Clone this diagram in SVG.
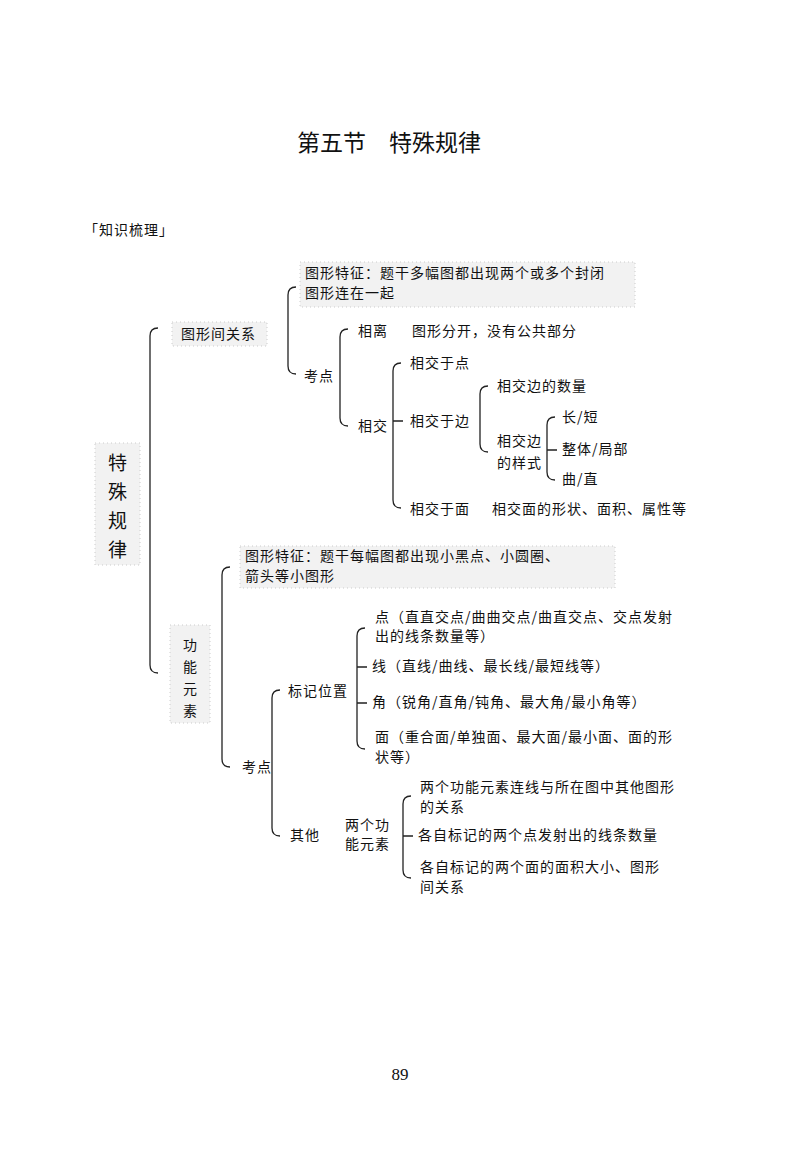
<svg xmlns="http://www.w3.org/2000/svg" width="800" height="1156" viewBox="0 0 800 1156">
<style>
text{font-family:"Noto Sans CJK SC","Noto Sans CJK JP",sans-serif;fill:#111;font-size:14px;letter-spacing:1px}
.t{font-size:23px;letter-spacing:0}
.big{font-size:19px}
.br{fill:none;stroke:#222;stroke-width:1.3}
.dot{fill:#f2f2f2;stroke:#ccc;stroke-width:1;stroke-dasharray:1 3}
.pn{font-family:"Liberation Serif",serif;font-size:17px;letter-spacing:0}
</style>
<rect width="800" height="1156" fill="#fff"/>
<text class="t" x="389" y="151" text-anchor="middle">第五节　特殊规律</text>
<text x="84" y="235" font-size="16">「知识梳理」</text>
<g id="connectors">
<path class="br" d="M158,328 Q150,328 150,336 V665 Q150,673 158,673"/>
<path class="br" d="M296,287 Q288,287 288,295 V366 Q288,374 296,374"/>
<path class="br" d="M348,329 Q340,329 340,337 V418 Q340,426 348,426"/>
<path class="br" d="M401,363 Q393,363 393,371 V500 Q393,508 401,508 M393,421 H403"/>
<path class="br" d="M488,386 Q480,386 480,394 V444 Q480,452 488,452"/>
<path class="br" d="M555,417 Q547,417 547,425 V472 Q547,480 555,480 M547,450 H557"/>
<path class="br" d="M230,567 Q222,567 222,575 V759 Q222,767 230,767"/>
<path class="br" d="M280,690 Q272,690 272,698 V828 Q272,836 280,836"/>
<path class="br" d="M365,628 Q357,628 357,636 V741 Q357,749 365,749 M357,667 H367 M357,703 H367"/>
<path class="br" d="M411,796 Q403,796 403,804 V870 Q403,878 411,878 M403,836 H413"/>
</g>
<g id="root"><rect class="dot" x="95" y="443" width="45" height="122"/>
<text class="big" x="108" y="470">特</text><text class="big" x="108" y="499">殊</text><text class="big" x="108" y="528">规</text><text class="big" x="108" y="557">律</text></g>
<g id="n1"><rect class="dot" x="172" y="322" width="95" height="24"/><text x="181" y="339">图形间关系</text></g>
<g id="n2"><rect class="dot" x="300" y="262" width="335" height="45"/><text x="305" y="278">图形特征：题干多幅图都出现两个或多个封闭</text><text x="305" y="298">图形连在一起</text></g>
<g id="n3"><text x="304" y="381">考点</text></g>
<g id="n4"><text x="358" y="336">相离</text><text x="412" y="336">图形分开，没有公共部分</text></g>
<g id="n5"><text x="358" y="431">相交</text></g>
<g id="n6"><text x="410" y="368">相交于点</text></g>
<g id="n7"><text x="410" y="426">相交于边</text></g>
<g id="n8"><text x="410" y="514">相交于面</text><text x="492" y="514">相交面的形状、面积、属性等</text></g>
<g id="n9"><text x="497" y="391">相交边的数量</text></g>
<g id="n10"><text x="497" y="446">相交边</text><text x="497" y="468">的样式</text></g>
<g id="n11"><text x="562" y="422">长/短</text></g>
<g id="n12"><text x="562" y="454">整体/局部</text></g>
<g id="n13"><text x="562" y="484">曲/直</text></g>
<g id="n14"><rect class="dot" x="170" y="625" width="40" height="98"/>
<text x="183" y="650">功</text><text x="183" y="672">能</text><text x="183" y="694">元</text><text x="183" y="716">素</text></g>
<g id="n15"><rect class="dot" x="240" y="546" width="375" height="42"/><text x="245" y="561">图形特征：题干每幅图都出现小黑点、小圆圈、</text><text x="245" y="581">箭头等小图形</text></g>
<g id="n16"><text x="242" y="772">考点</text></g>
<g id="n17"><text x="288" y="696">标记位置</text></g>
<g id="n18"><text x="290" y="840">其他</text></g>
<g id="n19"><text x="375" y="622">点（直直交点/曲曲交点/曲直交点、交点发射</text><text x="375" y="641">出的线条数量等）</text></g>
<g id="n20"><text x="372" y="671">线（直线/曲线、最长线/最短线等）</text></g>
<g id="n21"><text x="372" y="707">角（锐角/直角/钝角、最大角/最小角等）</text></g>
<g id="n22"><text x="375" y="742">面（重合面/单独面、最大面/最小面、面的形</text><text x="375" y="762">状等）</text></g>
<g id="n23"><text x="345" y="830">两个功</text><text x="345" y="849">能元素</text></g>
<g id="n24"><text x="420" y="792">两个功能元素连线与所在图中其他图形</text><text x="420" y="812">的关系</text></g>
<g id="n25"><text x="418" y="840">各自标记的两个点发射出的线条数量</text></g>
<g id="n26"><text x="420" y="872">各自标记的两个面的面积大小、图形</text><text x="420" y="892">间关系</text></g>
<text class="pn" x="400" y="1080" text-anchor="middle">89</text>
</svg>
